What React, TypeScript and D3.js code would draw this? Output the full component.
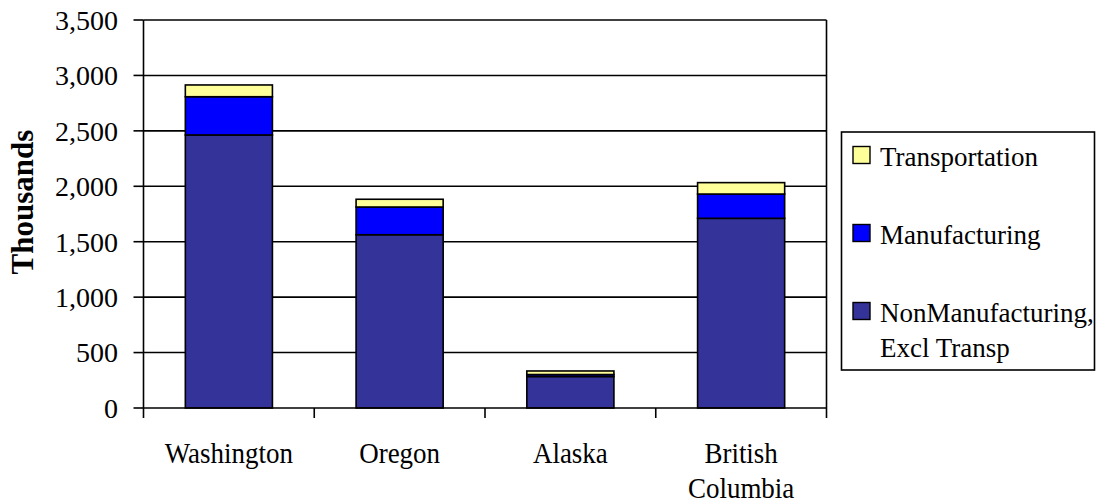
import React from "react";
import * as d3 from "d3";

// Regions along the category axis (each label may wrap onto several lines)
const regions = ["Washington", "Oregon", "Alaska", "British Columbia"];
const regionLines = [["Washington"], ["Oregon"], ["Alaska"], ["British", "Columbia"]];

// Employment by sector, in thousands
const nonManufacturing = [2463, 1563, 284, 1711];
const manufacturing = [345, 250, 18, 219];
const transportation = [106, 70, 32, 103];

const yTicks = [0, 500, 1000, 1500, 2000, 2500, 3000, 3500];

const seriesNames = ["NonManufacturing, Excl Transp", "Manufacturing", "Transportation"];
const seriesColors = ["#333399", "#0000FF", "#FFFF99"];
const legendLines = [["Transportation"], ["Manufacturing"], ["NonManufacturing,", "Excl Transp"]];
const legendColors = ["#FFFF99", "#0000FF", "#333399"];

const W = 1096;
const H = 504;
const plot = { left: 143.5, right: 826.5, top: 20, bottom: 408 };
const FONT = '"Liberation Serif", "DejaVu Serif", "Times New Roman", serif';
const txt: React.CSSProperties = { fontFamily: FONT };

export default function App() {
  const x = d3
    .scaleBand<string>()
    .domain(regions)
    .range([plot.left, plot.right])
    .paddingInner(0.49)
    .paddingOuter(0.245);
  const y = d3.scaleLinear().domain([0, 3500]).range([plot.bottom, plot.top]);

  const table = regions.map((r, i) => ({
    region: r,
    nonManufacturing: nonManufacturing[i],
    manufacturing: manufacturing[i],
    transportation: transportation[i],
  }));
  const stack = d3
    .stack<any>()
    .keys(["nonManufacturing", "manufacturing", "transportation"]);
  const layers = stack(table);

  const step = x.step();
  const boundaries = d3.range(regions.length + 1).map((i) => plot.left + i * step);

  return (
    <svg
      width={W}
      height={H}
      style={{ position: "absolute", left: 0, top: 0, background: "#fff", fontFamily: FONT }}
    >
      {/* gridlines */}
      {yTicks.slice(1).map((t) => (
        <line
          key={"g" + t}
          x1={plot.left}
          x2={plot.right}
          y1={y(t)}
          y2={y(t)}
          stroke="#000"
          strokeWidth={1.6}
        />
      ))}
      {/* plot frame right side */}
      <line x1={plot.right} x2={plot.right} y1={plot.top} y2={plot.bottom} stroke="#000" strokeWidth={1.6} />

      {/* stacked bars */}
      {layers.map((layer, li) => (
        <g key={"l" + li}>
          {layer.map((d, i) => (
            <rect
              key={i}
              x={x(regions[i])!}
              width={x.bandwidth()}
              y={y(d[1])}
              height={y(d[0]) - y(d[1])}
              fill={seriesColors[li]}
              stroke="#000"
              strokeWidth={1.6}
            >
              <title>{`${seriesNames[li]}: ${d[1] - d[0]}`}</title>
            </rect>
          ))}
        </g>
      ))}

      {/* y axis */}
      <line x1={plot.left} x2={plot.left} y1={plot.top} y2={plot.bottom} stroke="#000" strokeWidth={1.6} />
      {yTicks.map((t) => (
        <g key={"y" + t}>
          <line x1={plot.left - 10} x2={plot.left} y1={y(t)} y2={y(t)} stroke="#000" strokeWidth={1.6} />
          <text
            x={118}
            y={y(t)}
            dy="0.35em"
            textAnchor="end"
            fontSize={28}
            fill="#000"
            style={txt}
          >
            {d3.format(",")(t)}
          </text>
        </g>
      ))}
      <text
        transform={`translate(33,${(plot.top + plot.bottom) / 2 - 12}) rotate(-90)`}
        textAnchor="middle"
        fontSize={31}
        fontWeight="bold"
        fill="#000"
        style={txt}
      >
        Thousands
      </text>

      {/* x axis */}
      <line x1={plot.left} x2={plot.right} y1={plot.bottom} y2={plot.bottom} stroke="#000" strokeWidth={1.6} />
      {boundaries.map((bx, i) => (
        <line key={"xt" + i} x1={bx} x2={bx} y1={plot.bottom} y2={plot.bottom + 10} stroke="#000" strokeWidth={1.6} />
      ))}
      {regionLines.map((lines, i) => {
        const cx = x(regions[i])! + x.bandwidth() / 2;
        return lines.map((ln, j) => (
          <text
            key={"xl" + i + j}
            transform={`translate(${cx},${463 + j * 35}) scale(0.93,1)`}
            textAnchor="middle"
            fontSize={29}
            fill="#000"
            style={txt}
          >
            {ln}
          </text>
        ));
      })}

      {/* legend */}
      <rect x={841.5} y={132} width={253} height={238} fill="#fff" stroke="#000" strokeWidth={1.6} />
      {legendLines.map((lines, i) => {
        const base = [165.5, 243.5, 321.5][i];
        return (
          <g key={"lg" + i}>
            <rect
              x={853}
              y={base - 19}
              width={17}
              height={17}
              fill={legendColors[i]}
              stroke="#000"
              strokeWidth={1.4}
            />
            {lines.map((ln, j) => (
              <text key={j} x={880} y={base + j * 35} fontSize={27} fill="#000" style={txt}>
                {ln}
              </text>
            ))}
          </g>
        );
      })}
    </svg>
  );
}
